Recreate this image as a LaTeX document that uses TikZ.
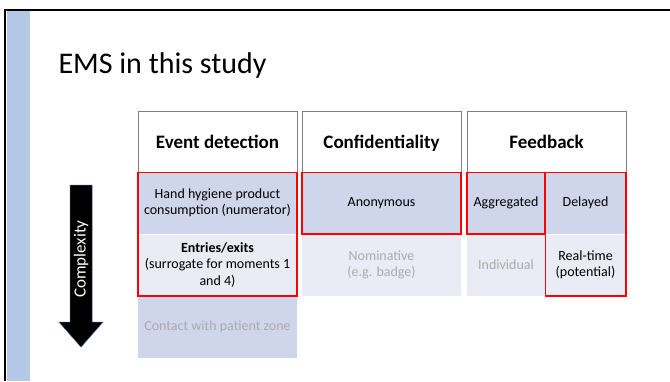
\documentclass[tikz,border=0pt]{standalone}
\usepackage{fontspec}
\setmainfont{Carlito}
\usetikzlibrary{positioning}

\definecolor{slideblue}{HTML}{B4C7E7}
\definecolor{rowdark}{HTML}{CFD5EA}
\definecolor{rowlight}{HTML}{E9EBF5}
\definecolor{muted}{HTML}{ABABAB}
\definecolor{headline}{HTML}{7F7F7F}
\definecolor{arrowline}{HTML}{2F528F}

\begin{document}
\begin{tikzpicture}[x=1pt, y=-1pt,
  head/.style={draw=headline, line width=.8pt, fill=white, minimum width=159pt,
    minimum height=61pt, inner sep=0pt, text height=15pt, text depth=2pt,
    font=\fontsize{19}{22}\selectfont\bfseries},
  cell/.style={minimum width=159pt, minimum height=61pt, inner sep=0pt, align=center,
    font=\fontsize{14}{16.5}\selectfont},
  halfcell/.style={cell, minimum width=78pt},
  dark/.style={fill=rowdark},
  light/.style={fill=rowlight},
  off/.style={text=muted},
  sel/.style={draw=red, line width=1.6pt}]
\useasboundingbox (0,0) rectangle (670,381);

% slide frame and side bar
\fill[slideblue] (7,11) rectangle (30,381);
\draw[line width=2pt] (670,10) -- (5,10) -- (5,381);

\node[anchor=base west, font=\fontsize{30}{36}\selectfont] (title) at (55,73) {EMS in this study};

% column heads
\node[head] (evt) at (217.5,141.5) {Event detection};
\node[head] (conf) at (381.5,141.5) {Confidentiality};
\node[head] (fb) at (546.5,141.5) {Feedback};

% event detection
\node[cell, dark] (hh) at (217.5,203) {Hand hygiene product\\consumption (numerator)};
\node[cell, light] (ent) at (217.5,265) {\textbf{Entries/exits}\\(surrogate for moments 1\\and 4)};
\node[cell, dark, off] (cont) at (217.5,327) {Contact with patient zone};

% confidentiality
\node[cell, dark] (anon) at (381.5,203) {Anonymous};
\node[cell, light, off] (nom) at (381.5,265) {Nominative\\(e.g. badge)};

% feedback
\node[halfcell, dark] (agg) at (506,203) {Aggregated};
\node[halfcell, light, off] (ind) at (506,265) {Individual};
\node[halfcell, dark, minimum width=80pt] (del) at (585.5,203) {Delayed};
\node[halfcell, light, minimum width=80pt] (rt) at (585.5,265) {Real-time\\(potential)};

% what the study covers
\draw[sel] (hh.north west) rectangle (ent.south east);
\draw[sel] (anon.north west) rectangle (anon.south east);
\draw[sel] (agg.north west) rectangle (agg.south east);
\draw[sel] (del.north west) rectangle (rt.south east);

% complexity arrow
\draw[fill=black, draw=arrowline, line width=.5pt]
  (70,185) -- (92,185) -- (92,322) -- (103,322) -- (81,347) -- (59,322) -- (70,322) -- cycle;
\node[rotate=90, text=white, font=\fontsize{17}{20}\selectfont] (cx) at (81,259) {Complexity};
\end{tikzpicture}
\end{document}
